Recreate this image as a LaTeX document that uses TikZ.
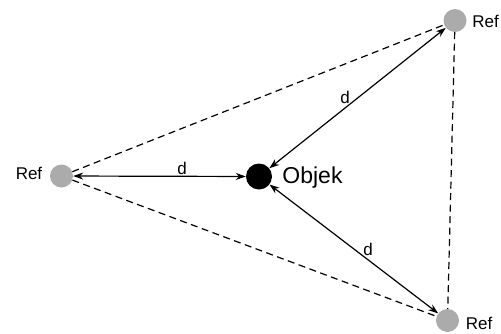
\documentclass[tikz,border=0pt]{standalone}
\usepackage{fontspec}
\setmainfont{Liberation Sans}
\usetikzlibrary{arrows.meta}
\definecolor{refgray}{HTML}{ABABAB}
\begin{document}
\begin{tikzpicture}[x=1pt,y=-1pt,
  refpt/.style={circle,fill=refgray,minimum size=23pt,inner sep=0pt},
  objpt/.style={circle,fill=black,minimum size=26pt,inner sep=0pt},
  lbl/.style={font=\fontsize{17pt}{17pt}\selectfont,inner sep=0pt},
  dlbl/.style={font=\fontsize{17pt}{17pt}\selectfont,inner sep=0pt},
  dist/.style={line width=1.2pt,{Stealth[length=10pt,width=7pt]}-{Stealth[length=10pt,width=7pt]}},
  dashline/.style={line width=1.2pt,dash pattern=on 7pt off 4.5pt}]
\useasboundingbox (0,0) rectangle (501,333);
\node[refpt] (r1) at (455,20.5) {};
\node[refpt] (r2) at (61.5,176) {};
\node[refpt] (r3) at (447.5,320.5) {};
\node[objpt] (o) at (259,176.5) {};
\node[lbl] (l1) at (485.5,21.5) {Ref};
\node[lbl] (l2) at (29,173.5) {Ref};
\node[lbl] (l3) at (479,323) {Ref};
\node[font=\fontsize{23pt}{23pt}\selectfont,inner sep=0pt] (lo) at (312.5,178) {Objek};
\draw[dashline] (r2) -- (r1);
\draw[dashline] (r2) -- (r3);
\draw[dashline] (r1) -- (r3);
\draw[dist] (r2) -- (o);
\draw[dist] (o) -- (r1);
\draw[dist] (o) -- (r3);
\node[dlbl] (d1) at (182,168) {d};
\node[dlbl] (d2) at (345,97) {d};
\node[dlbl] (d3) at (368,249) {d};
\end{tikzpicture}
\end{document}
